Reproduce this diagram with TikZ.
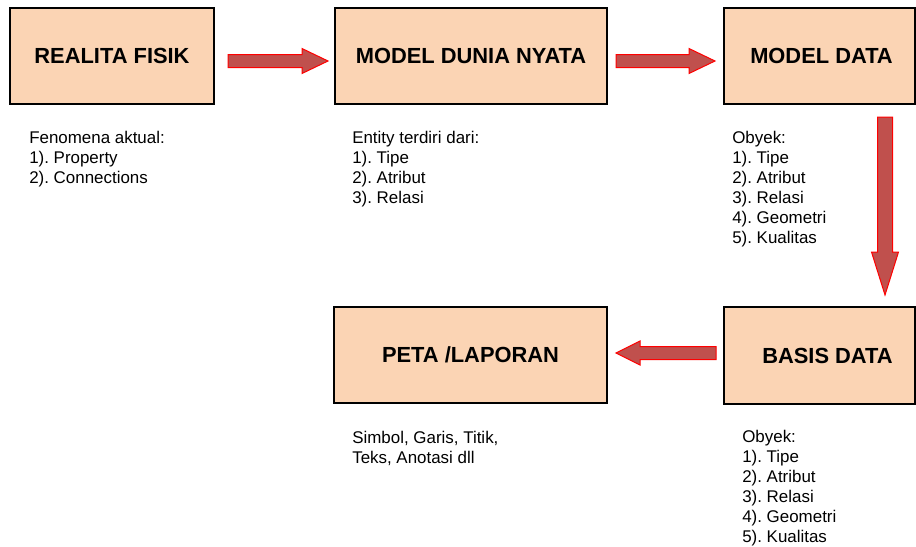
\documentclass[tikz,border=0pt]{standalone}
\usepackage{fontspec}
\setmainfont{Liberation Sans}
\usetikzlibrary{calc}
\frenchspacing
\definecolor{boxfill}{HTML}{FBD4B4}
\definecolor{arrfill}{HTML}{C0504D}
\newdimen\px \px=0.75pt
% #1 start, #2 tip, #3 head length, #4 half shaft width, #5 half head width
\newcommand{\blockarrow}[5]{%
  \coordinate (ah) at ($(#2)!#3\px!(#1)$);
  \filldraw[arrowshape] ($(#1)!#4\px!90:(#2)$) -- ($(ah)!#4\px!90:(#2)$)
    -- ($(ah)!#5\px!90:(#2)$) -- (#2) -- ($(ah)!#5\px!-90:(#2)$)
    -- ($(ah)!#4\px!-90:(#2)$) -- ($(#1)!#4\px!-90:(#2)$) -- cycle;
}
\begin{document}
\frenchspacing
\begin{tikzpicture}[x=0.75pt,y=-0.75pt,
  box/.style={draw=black, line width=2\px, fill=boxfill, inner sep=0pt, outer sep=0pt,
    font=\fontsize{16.4}{19}\selectfont\bfseries},
  note/.style={anchor=base west, inner sep=0pt, font=\fontsize{12.7}{15}\selectfont\frenchspacing, text=black},
  arrowshape/.style={fill=arrfill, draw=red, line width=1\px, line join=miter}]
\useasboundingbox (0,0) rectangle (916,546);
% boxes
\node[box, minimum width=204\px, minimum height=96\px] (b1) at (112,56) {REALITA FISIK};
\node[box, minimum width=272\px, minimum height=96\px] (b2) at (471,56) {MODEL DUNIA NYATA};
\node[box, minimum width=191\px, minimum height=96\px] (b3) at (819.5,56) {\hspace*{4\px}MODEL DATA};
\node[box, minimum width=191\px, minimum height=97\px] (b4) at (819.5,355.5) {\hspace*{16\px}BASIS DATA};
\node[box, minimum width=273\px, minimum height=96\px] (b5) at (470.5,355) {PETA /LAPORAN};
% notes
\node[note] (n1) at ($(b1.south west)+(19,39)$) {\vtop{\hbox{Fenomena aktual:}\hbox{1). Property}\hbox{2). Connections}}};
\node[note] (n2) at ($(b2.south west)+(17,39)$) {\vtop{\hbox{Entity terdiri dari:}\hbox{1). Tipe}\hbox{2). Atribut}\hbox{3). Relasi}}};
\node[note] (n3) at ($(b3.south west)+(8,39)$) {\vtop{\hbox{Obyek:}\hbox{1). Tipe}\hbox{2). Atribut}\hbox{3). Relasi}\hbox{4). Geometri}\hbox{5). Kualitas}}};
\node[note] (n4) at ($(b4.south west)+(18,38)$) {\vtop{\hbox{Obyek:}\hbox{1). Tipe}\hbox{2). Atribut}\hbox{3). Relasi}\hbox{4). Geometri}\hbox{5). Kualitas}}};
\node[note] (n5) at ($(b5.south west)+(18,40)$) {\vtop{\hbox{Simbol, Garis, Titik,}\hbox{Teks, Anotasi dll}}};
% arrow end points
\coordinate (a1s) at ($(b1.east)+(14,5)$);
\coordinate (a1e) at ($(b2.west)+(-7,5)$);
\coordinate (a2s) at ($(b2.east)+(9,5)$);
\coordinate (a2e) at ($(b3.west)+(-9,5)$);
\coordinate (a3s) at ($(b3.south)+(65.5,13)$);
\coordinate (a3e) at ($(b4.north)+(65.5,-12)$);
\coordinate (a4s) at ($(b4.west)+(-8,-2.5)$);
\coordinate (a4e) at ($(b5.east)+(9,-2)$);
% arrows
\blockarrow{a1s}{a1e}{26}{6.5}{12.5}
\blockarrow{a2s}{a2e}{26}{6.5}{12.5}
\blockarrow{a3s}{a3e}{43}{7.5}{13.5}
\blockarrow{a4s}{a4e}{24}{6.5}{12}
\end{tikzpicture}
\end{document}
